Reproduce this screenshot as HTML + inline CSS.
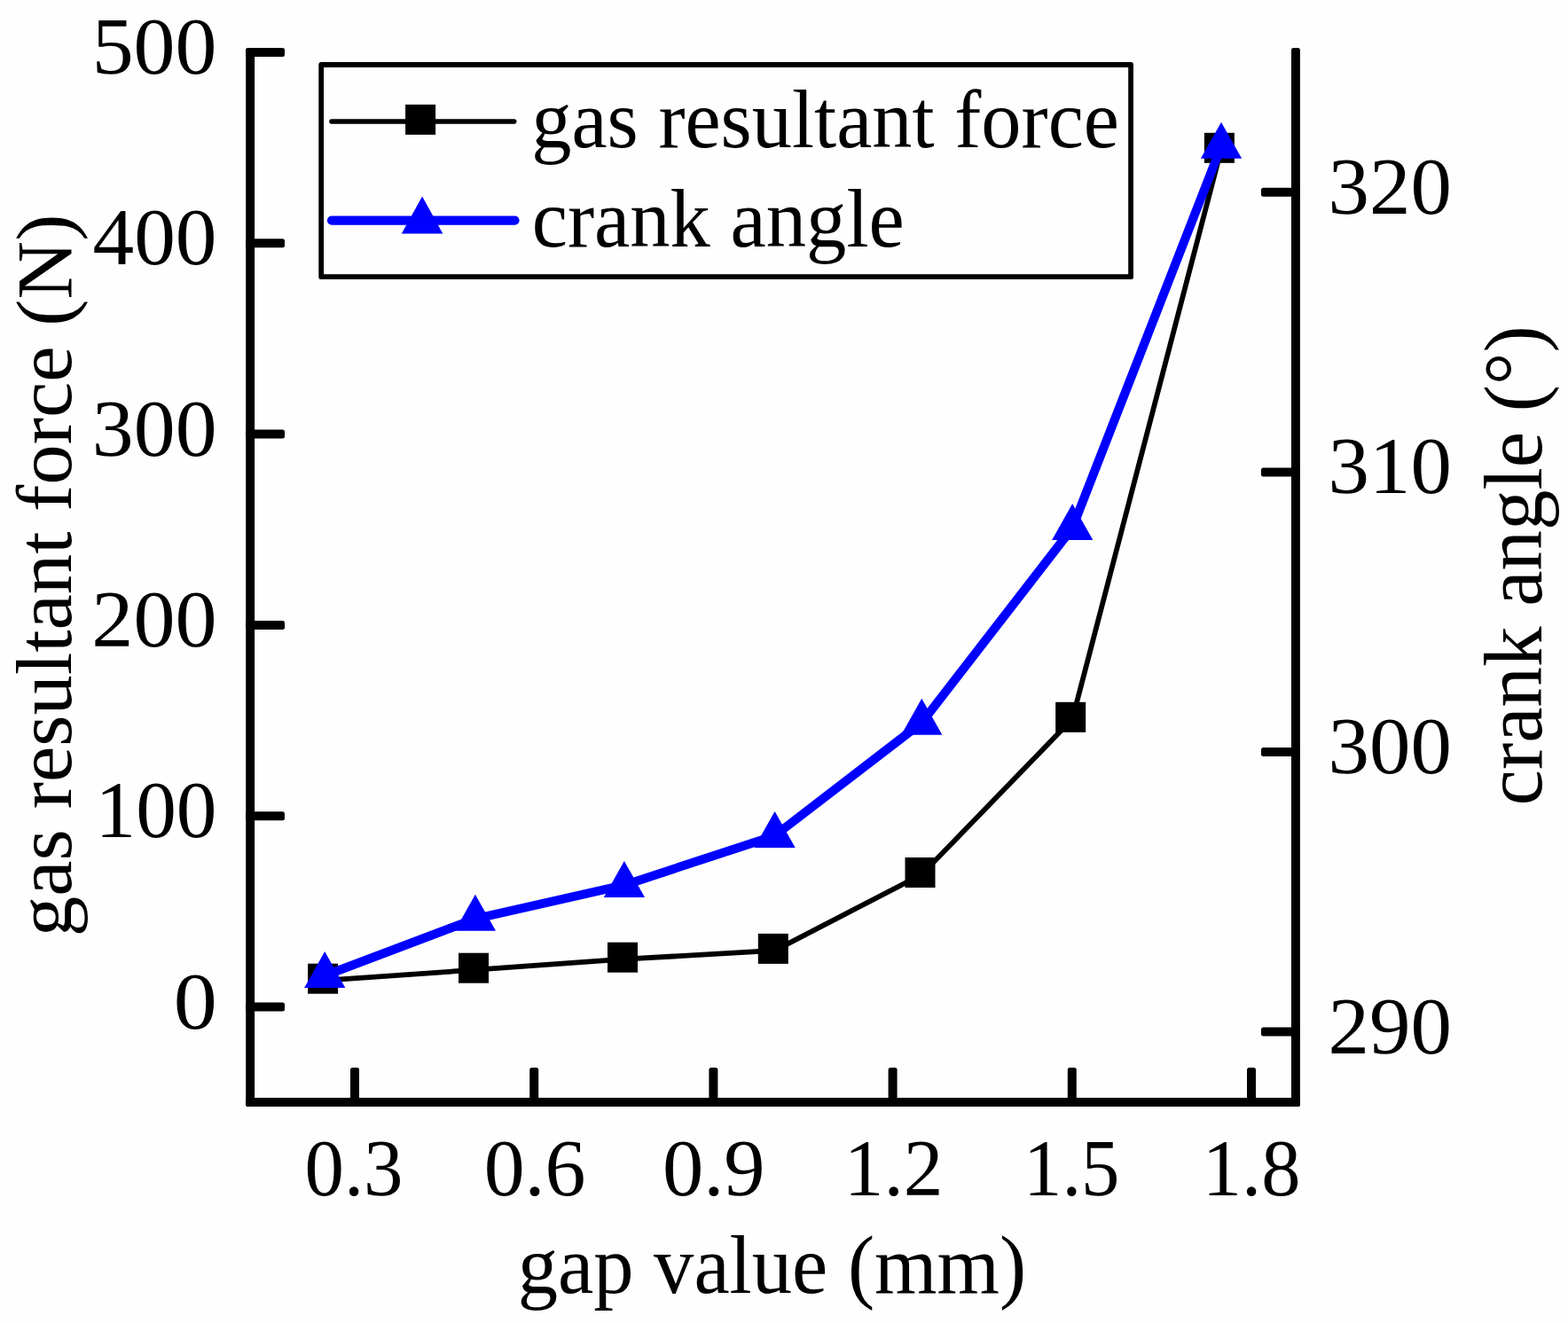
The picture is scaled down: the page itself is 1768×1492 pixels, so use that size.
<!DOCTYPE html>
<html><head><meta charset="utf-8"><title>gas resultant force and crank angle vs gap value</title>
<style>html,body{margin:0;padding:0;background:#fefefe;} svg{display:block;}</style></head>
<body><svg width="1768" height="1492" viewBox="0 0 1768 1492">
<rect x="0" y="0" width="1768" height="1492" fill="#fefefe" />
<g fill="#000">
<rect x="277.2" y="54" width="9.9" height="1194" rx="2.5" />
<rect x="1456" y="54" width="9.9" height="1194" rx="2.5" />
<rect x="277.2" y="1238" width="1188.7" height="10" rx="2.5" />
<rect x="277.2" y="54.0" width="43.8" height="10" rx="2.5" />
<rect x="277.2" y="269.3" width="43.8" height="10" rx="2.5" />
<rect x="277.2" y="484.6" width="43.8" height="10" rx="2.5" />
<rect x="277.2" y="699.9" width="43.8" height="10" rx="2.5" />
<rect x="277.2" y="915.2" width="43.8" height="10" rx="2.5" />
<rect x="277.2" y="1130.5" width="43.8" height="10" rx="2.5" />
<rect x="1422" y="211.8" width="43.9" height="10" rx="2.5" />
<rect x="1422" y="527.4" width="43.9" height="10" rx="2.5" />
<rect x="1422" y="843.0" width="43.9" height="10" rx="2.5" />
<rect x="1422" y="1158.5" width="43.9" height="10" rx="2.5" />
<rect x="395.0" y="1204" width="10" height="44" rx="2.5" />
<rect x="597.2" y="1204" width="10" height="44" rx="2.5" />
<rect x="799.4" y="1204" width="10" height="44" rx="2.5" />
<rect x="1001.6" y="1204" width="10" height="44" rx="2.5" />
<rect x="1203.8" y="1204" width="10" height="44" rx="2.5" />
<rect x="1406.0" y="1204" width="10" height="44" rx="2.5" />
<rect x="362.2" y="73" width="912.9" height="239.2" fill="none" stroke="#000" stroke-width="5.8" stroke-linejoin="round" />
<line x1="374" y1="137" x2="579.7" y2="137" stroke="#000" stroke-width="5.6" stroke-linecap="round" />
<rect x="457.1" y="117.9" width="34" height="34" />
<line x1="374" y1="248.6" x2="580.5" y2="248.6" stroke="#0000ff" stroke-width="10.2" stroke-linecap="round" />
<polygon points="476.1,221.4 499.3,263.5 452.8,263.5" fill="#0000ff" />
<polyline points="366.1,1105.7 536.0,1093.7 704.0,1081.7 873.8,1071.9 1039.5,986.0 1209.2,810.8 1376.9,168.8" fill="none" stroke="#000" stroke-width="5.8" stroke-linejoin="miter" />
<rect x="347.1" y="1086.7" width="34" height="34" />
<rect x="517.0" y="1074.7" width="34" height="34" />
<rect x="685.0" y="1062.7" width="34" height="34" />
<rect x="854.8" y="1052.9" width="34" height="34" />
<rect x="1020.5" y="967.0" width="34" height="34" />
<rect x="1190.2" y="791.8" width="34" height="34" />
<rect x="1357.9" y="149.8" width="34" height="34" />
<polyline points="366.2,1100.2 535.9,1036.1 703.9,998.2 873.6,942.4 1039.3,815.0 1209.2,595.4 1377.0,165.1" fill="none" stroke="#0000ff" stroke-width="10" stroke-linejoin="round" />
<polygon points="366.2,1072.9 389.3,1113.9 343.1,1113.9" fill="#0000ff" />
<polygon points="535.9,1008.8 559.0,1049.8 512.8,1049.8" fill="#0000ff" />
<polygon points="703.9,970.9 727.0,1011.9 680.8,1011.9" fill="#0000ff" />
<polygon points="873.6,915.1 896.7,956.1 850.5,956.1" fill="#0000ff" />
<polygon points="1039.3,787.7 1062.4,828.7 1016.2,828.7" fill="#0000ff" />
<polygon points="1209.2,568.1 1232.3,609.1 1186.1,609.1" fill="#0000ff" />
<polygon points="1377.0,137.8 1400.1,178.8 1353.9,178.8" fill="#0000ff" />
</g>
<g fill="#000" font-family="'Liberation Serif', 'Times New Roman', serif">
<text transform="translate(103.66,83.03) scale(0.9393,0.9120)" font-size="100">500</text>
<text transform="translate(104.43,298.33) scale(0.9340,0.9120)" font-size="100">400</text>
<text transform="translate(103.81,513.63) scale(0.9383,0.9120)" font-size="100">300</text>
<text transform="translate(103.33,728.93) scale(0.9415,0.9120)" font-size="100">200</text>
<text transform="translate(107.48,944.23) scale(0.9131,0.9120)" font-size="100">100</text>
<text transform="translate(195.68,1159.53) scale(0.9810,0.9120)" font-size="100">0</text>
<text transform="translate(1497.55,240.83) scale(0.9291,0.9120)" font-size="100">320</text>
<text transform="translate(1497.55,556.43) scale(0.9291,0.9120)" font-size="100">310</text>
<text transform="translate(1497.55,872.03) scale(0.9291,0.9120)" font-size="100">300</text>
<text transform="translate(1497.48,1187.53) scale(0.9296,0.9120)" font-size="100">290</text>
<text transform="translate(343.44,1347.53) scale(0.8889,0.9120)" font-size="100">0.3</text>
<text transform="translate(545.63,1347.53) scale(0.9186,0.9120)" font-size="100">0.6</text>
<text transform="translate(746.89,1347.53) scale(0.9265,0.9120)" font-size="100">0.9</text>
<text transform="translate(951.75,1347.53) scale(0.8945,0.9120)" font-size="100">1.2</text>
<text transform="translate(1153.99,1347.53) scale(0.8679,0.9120)" font-size="100">1.5</text>
<text transform="translate(1355.72,1347.53) scale(0.8866,0.9120)" font-size="100">1.8</text>
<text transform="translate(583.68,1457.92) scale(0.9059,0.9278)" font-size="100">gap value (mm)</text>
<text transform="translate(599.28,166.14) scale(0.9041,0.9217)" font-size="100">gas resultant force</text>
<text transform="translate(599.67,277.61) scale(0.9064,0.9233)" font-size="100">crank angle</text>
<text transform="translate(79.65,1056.13) rotate(-90) scale(0.9083,0.8978)" font-size="100">gas resultant force (N)</text>
<text transform="translate(1737.92,908.44) rotate(-90) scale(0.9092,0.9278)" font-size="100">crank angle (°)</text>
</g>
</svg></body></html>
